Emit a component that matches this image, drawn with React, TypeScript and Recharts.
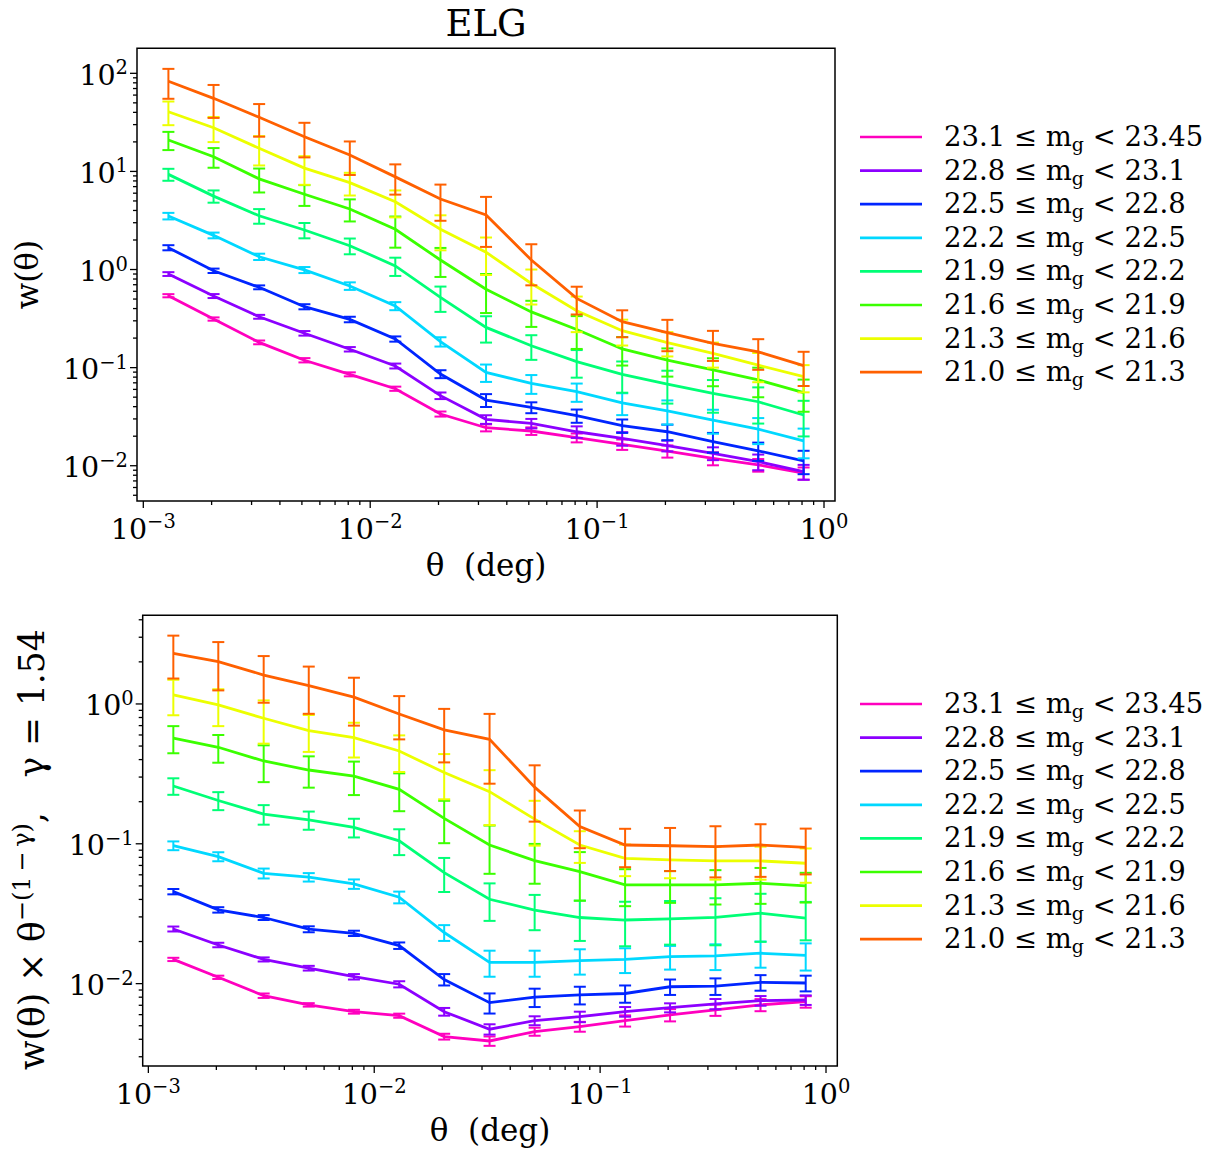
import React from 'react';
import { ComposedChart, Line, ErrorBar, XAxis, YAxis, ReferenceArea, Legend, Label } from 'recharts';

// angular bins (deg)
const thetaDeg = [0.00129, 0.00204, 0.00324, 0.00513, 0.00813, 0.0129, 0.0204, 0.0324, 0.0513, 0.0813, 0.129, 0.204, 0.324, 0.513, 0.813];

// magnitude bins, faintest first (same order as the legend)
const binLow = ['23.1', '22.8', '22.5', '22.2', '21.9', '21.6', '21.3', '21.0'];
const binHigh = ['23.45', '23.1', '22.8', '22.5', '22.2', '21.9', '21.6', '21.3'];
const binColors = ['#ff00bf', '#8c00ff', '#0025ff', '#00d8ff', '#00ff76', '#3bff00', '#ecff00', '#ff6000'];

// w(theta)
const wTheta = [
  [0.541, 0.313, 0.181, 0.119, 0.0855, 0.061, 0.0337, 0.0244, 0.0226, 0.0193, 0.0165, 0.0141, 0.0119, 0.0102, 0.0084],
  [0.9, 0.537, 0.33, 0.224, 0.154, 0.104, 0.0518, 0.0297, 0.027, 0.0222, 0.019, 0.016, 0.0134, 0.011, 0.0087],
  [1.67, 0.972, 0.659, 0.418, 0.31, 0.196, 0.0861, 0.0467, 0.0393, 0.0324, 0.0256, 0.0222, 0.0176, 0.0142, 0.0112],
  [3.51, 2.23, 1.35, 0.99, 0.68, 0.425, 0.184, 0.0895, 0.069, 0.0568, 0.0438, 0.0363, 0.0292, 0.0236, 0.0179],
  [9.33, 5.6, 3.53, 2.53, 1.75, 1.09, 0.52, 0.257, 0.167, 0.115, 0.0855, 0.068, 0.0547, 0.0449, 0.0329],
  [20.9, 14.1, 8.4, 5.85, 4.14, 2.57, 1.25, 0.63, 0.37, 0.245, 0.155, 0.119, 0.0946, 0.0749, 0.0555],
  [40.6, 27.9, 17.2, 10.8, 7.68, 4.9, 2.57, 1.5, 0.72, 0.38, 0.238, 0.18, 0.14, 0.106, 0.081],
  [83, 55.6, 35.6, 22.6, 14.7, 8.8, 5.24, 3.6, 1.25, 0.508, 0.294, 0.227, 0.177, 0.145, 0.105],
];
const wThetaErr = [
  [0.02, 0.012, 0.008, 0.006, 0.004, 0.003, 0.002, 0.002, 0.002, 0.002, 0.002, 0.002, 0.0018, 0.0015, 0.0012],
  [0.04, 0.025, 0.015, 0.012, 0.008, 0.006, 0.004, 0.003, 0.003, 0.003, 0.003, 0.002, 0.002, 0.002, 0.0015],
  [0.1, 0.05, 0.03, 0.025, 0.02, 0.012, 0.008, 0.007, 0.005, 0.005, 0.004, 0.004, 0.004, 0.003, 0.003],
  [0.27, 0.15, 0.1, 0.07, 0.06, 0.04, 0.02, 0.018, 0.015, 0.012, 0.011, 0.01, 0.008, 0.007, 0.006],
  [1.3, 0.8, 0.6, 0.45, 0.32, 0.23, 0.15, 0.077, 0.047, 0.036, 0.03, 0.025, 0.02, 0.018, 0.013],
  [4.4, 3.2, 2.3, 1.4, 1.05, 0.9, 0.41, 0.27, 0.11, 0.09, 0.05, 0.038, 0.03, 0.025, 0.02],
  [11, 8, 5.7, 3.5, 2, 1.5, 1.0, 0.62, 0.28, 0.15, 0.07, 0.05, 0.04, 0.035, 0.025],
  [28, 20.5, 13, 8.7, 5.5, 3, 2.1, 1.9, 0.56, 0.16, 0.09, 0.08, 0.06, 0.05, 0.04],
];

// w(theta) * theta^-(1-gamma), gamma = 1.54
const wScaled = [
  [0.0149, 0.0111, 0.0082, 0.00705, 0.0063, 0.0059, 0.00418, 0.00389, 0.00454, 0.00493, 0.00543, 0.00597, 0.00648, 0.00705, 0.00743],
  [0.0246, 0.0189, 0.0149, 0.0129, 0.0112, 0.0099, 0.0063, 0.00472, 0.00544, 0.0058, 0.0063, 0.00673, 0.00716, 0.00755, 0.00764],
  [0.0455, 0.0337, 0.0297, 0.0245, 0.0229, 0.0187, 0.0107, 0.00731, 0.008, 0.0083, 0.0085, 0.0095, 0.0096, 0.0102, 0.0101],
  [0.097, 0.081, 0.0615, 0.0577, 0.0516, 0.0415, 0.0232, 0.0142, 0.0142, 0.0146, 0.0149, 0.0156, 0.0158, 0.0165, 0.0159],
  [0.259, 0.204, 0.163, 0.148, 0.131, 0.105, 0.0622, 0.0401, 0.0336, 0.0297, 0.0285, 0.029, 0.0298, 0.0319, 0.0294],
  [0.569, 0.49, 0.391, 0.337, 0.305, 0.245, 0.152, 0.098, 0.0758, 0.0632, 0.0508, 0.0508, 0.0508, 0.0522, 0.05],
  [1.16, 0.984, 0.79, 0.644, 0.574, 0.461, 0.323, 0.236, 0.15, 0.098, 0.0787, 0.0767, 0.0754, 0.0754, 0.0726],
  [2.3, 2.01, 1.61, 1.35, 1.12, 0.848, 0.652, 0.559, 0.254, 0.133, 0.098, 0.0968, 0.0955, 0.098, 0.0944],
];
const wScaledErr = [
  [0.0004, 0.0003, 0.0003, 0.0002, 0.0002, 0.0002, 0.0002, 0.0003, 0.0003, 0.0004, 0.0005, 0.0006, 0.0006, 0.0007, 0.0007],
  [0.001, 0.0007, 0.0005, 0.0005, 0.0005, 0.0005, 0.0004, 0.0004, 0.0004, 0.0005, 0.0005, 0.0005, 0.0006, 0.0006, 0.0006],
  [0.002, 0.0015, 0.0012, 0.0012, 0.001, 0.001, 0.001, 0.0012, 0.0012, 0.0012, 0.0012, 0.0012, 0.0013, 0.0013, 0.0013],
  [0.007, 0.006, 0.005, 0.004, 0.004, 0.004, 0.003, 0.003, 0.003, 0.003, 0.003, 0.003, 0.0033, 0.0035, 0.0035],
  [0.035, 0.03, 0.026, 0.022, 0.02, 0.022, 0.017, 0.012, 0.0095, 0.0095, 0.01, 0.01, 0.011, 0.012, 0.009],
  [0.125, 0.11, 0.115, 0.085, 0.082, 0.074, 0.051, 0.037, 0.024, 0.024, 0.015, 0.013, 0.014, 0.015, 0.012],
  [0.33, 0.29, 0.27, 0.19, 0.16, 0.135, 0.115, 0.1, 0.053, 0.025, 0.02, 0.02, 0.02, 0.02, 0.02],
  [0.78, 0.76, 0.59, 0.5, 0.42, 0.29, 0.27, 0.29, 0.11, 0.04, 0.03, 0.033, 0.038, 0.04, 0.034],
];

// log ticks (majors get labels)
const xTicks = [0.001, 0.002, 0.003, 0.004, 0.005, 0.006, 0.007, 0.008, 0.009, 0.01, 0.02, 0.03, 0.04, 0.05, 0.06, 0.07, 0.08, 0.09, 0.1, 0.2, 0.3, 0.4, 0.5, 0.6, 0.7, 0.8, 0.9, 1];
const topYTicks = [0.005, 0.006, 0.007, 0.008, 0.009, 0.01, 0.02, 0.03, 0.04, 0.05, 0.06, 0.07, 0.08, 0.09, 0.1, 0.2, 0.3, 0.4, 0.5, 0.6, 0.7, 0.8, 0.9, 1, 2, 3, 4, 5, 6, 7, 8, 9, 10, 20, 30, 40, 50, 60, 70, 80, 90, 100];
const bottomYTicks = [0.003, 0.004, 0.005, 0.006, 0.007, 0.008, 0.009, 0.01, 0.02, 0.03, 0.04, 0.05, 0.06, 0.07, 0.08, 0.09, 0.1, 0.2, 0.3, 0.4, 0.5, 0.6, 0.7, 0.8, 0.9, 1, 2, 3, 4];

const FONT = '"DejaVu Serif", serif';
const TICK_FS = 28.5;
const TICK_SUP_FS = 19.5;
const LEGEND_FS = 27.5;
const LEGEND_SUB_FS = 19;
const LABEL_FS = 31;

const buildRows = (vals: number[][], errs: number[][]) =>
  thetaDeg.map((t, i) => {
    const row: any = { theta: t };
    vals.forEach((s, k) => {
      row[`v${k}`] = s[i];
      row[`e${k}`] = errs[k][i];
    });
    return row;
  });

const expOf = (v: number) => {
  const l = Math.log10(v);
  const e = Math.round(l);
  return { e, major: Math.abs(l - e) < 1e-6 };
};
const expText = (e: number) => (e < 0 ? `\u2212${-e}` : `${e}`);

const XTick = (props: any) => {
  const { x, y, payload } = props;
  const { e, major } = expOf(payload.value);
  return (
    <g>
      <line x1={x} x2={x} y1={y} y2={y + (major ? 7 : 4)} stroke="#000" strokeWidth={1.3} />
      {major && (
        <text x={x} y={y + 37.5} textAnchor="middle" fontFamily={FONT} fontSize={TICK_FS} fill="#000">
          10<tspan dy={-10.5} fontSize={TICK_SUP_FS}>{expText(e)}</tspan>
        </text>
      )}
    </g>
  );
};

const YTick = (props: any) => {
  const { x, y, payload } = props;
  const { e, major } = expOf(payload.value);
  return (
    <g>
      <line x1={x} x2={x - (major ? 7 : 4)} y1={y} y2={y} stroke="#000" strokeWidth={1.3} />
      {major && (
        <text x={x - 9} y={y + 11.5} textAnchor="end" fontFamily={FONT} fontSize={TICK_FS} fill="#000">
          10<tspan dy={-10.5} fontSize={TICK_SUP_FS}>{expText(e)}</tspan>
        </text>
      )}
    </g>
  );
};

const MagLegend = () => (
  <svg width={360} height={280}>
    {binLow.map((lo, k) => {
      const ly = 17 + k * 33.6;
      return (
        <g key={lo + k}>
          <line x1={2} x2={64} y1={ly} y2={ly} stroke={binColors[k]} strokeWidth={2.7} />
          <text x={86} y={ly + 9} fontFamily={FONT} fontSize={LEGEND_FS} fill="#000" style={{ whiteSpace: 'pre' }}>
            {`${lo} \u2264 m`}
            <tspan fontSize={LEGEND_SUB_FS} dy={5}>g</tspan>
            <tspan dy={-5}>{` < ${binHigh[k]}`}</tspan>
          </text>
        </g>
      );
    })}
  </svg>
);

const Panel = ({ rows, xDomain, yDomain, yTicks, height, margin, yAxisWidth, xAxisHeight, title, yLabel, yLabelX, yLabelFs, yLabelShift, legendTop }: any) => (
  <ComposedChart width={1214} height={height} data={rows} margin={margin}>
    <XAxis
      dataKey="theta"
      type="number"
      scale="log"
      domain={xDomain}
      allowDataOverflow
      ticks={xTicks}
      interval={0}
      height={xAxisHeight}
      axisLine={false}
      tickLine={false}
      tickSize={0}
      tickMargin={0}
      tick={<XTick />}
    >
      <Label
        content={(p: any) => (
          <text
            x={p.viewBox.x + p.viewBox.width / 2}
            y={p.viewBox.y + 75}
            textAnchor="middle"
            fontFamily={FONT}
            fontSize={LABEL_FS}
            fill="#000"
            style={{ whiteSpace: 'pre' }}
          >
            {'\u03b8  (deg)'}
          </text>
        )}
      />
    </XAxis>
    <YAxis
      type="number"
      scale="log"
      domain={yDomain}
      allowDataOverflow
      ticks={yTicks}
      interval={0}
      width={yAxisWidth}
      axisLine={false}
      tickLine={false}
      tickSize={0}
      tickMargin={0}
      tick={<YTick />}
    >
      <Label
        content={(p: any) => {
          const cx = yLabelX;
          const cy = p.viewBox.y + p.viewBox.height / 2 + yLabelShift;
          return (
            <text
              x={cx}
              y={cy}
              transform={`rotate(-90 ${cx} ${cy})`}
              textAnchor="middle"
              fontFamily={FONT}
              fontSize={yLabelFs}
              fill="#000"
              style={{ whiteSpace: 'pre' }}
            >
              {yLabel}
            </text>
          );
        }}
      />
    </YAxis>
    <ReferenceArea
      x1={xDomain[0]}
      x2={xDomain[1]}
      y1={yDomain[0]}
      y2={yDomain[1]}
      fill="none"
      stroke="#000"
      strokeWidth={1.5}
      ifOverflow="visible"
      label={(p: any) =>
        title ? (
          <text x={p.viewBox.x + p.viewBox.width / 2} y={p.viewBox.y - 12} textAnchor="middle" fontFamily={FONT} fontSize={37} fill="#000">
            {title}
          </text>
        ) : null
      }
    />
    {binColors.map((c, k) => (
      <Line
        key={k}
        dataKey={`v${k}`}
        type="linear"
        stroke={c}
        strokeWidth={2.8}
        dot={false}
        isAnimationActive={false}
      >
        <ErrorBar dataKey={`e${k}`} width={6} strokeWidth={2} stroke={c} direction="y" isAnimationActive={false} />
      </Line>
    ))}
    <Legend
      layout="vertical"
      align="center"
      verticalAlign="middle"
      wrapperStyle={{ left: 858, top: legendTop, width: 360 }}
      content={() => <MagLegend />}
    />
  </ComposedChart>
);

export default function App() {
  const topRows = buildRows(wTheta, wThetaErr);
  const bottomRows = buildRows(wScaled, wScaledErr);

  const bottomYLabel = (
    <>
      {'w(\u03b8) \u00d7 \u03b8'}
      <tspan dy={-14} fontSize={24}>{'\u2212(1\u2009\u2212\u2009\u03b3)'}</tspan>
      <tspan dy={14}>{',\u2003\u03b3 = 1.54'}</tspan>
    </>
  );

  return (
    <div style={{ position: 'absolute', left: 0, top: 0, width: 1214, height: 1156, background: '#fff' }}>
      <div style={{ position: 'absolute', left: 0, top: 0 }}>
        <Panel
          rows={topRows}
          xDomain={[0.000938, 1.118]}
          yDomain={[0.00437, 179.9]}
          yTicks={topYTicks}
          height={590}
          margin={{ top: 48.3, right: 379, bottom: 0, left: 0 }}
          yAxisWidth={137}
          xAxisHeight={89}
          title="ELG"
          yLabel={'w(\u03b8)'}
          yLabelX={38.5}
          yLabelFs={LABEL_FS}
          yLabelShift={0}
          legendTop={120.3}
        />
      </div>
      <div style={{ position: 'absolute', left: 0, top: 590 }}>
        <Panel
          rows={bottomRows}
          xDomain={[0.000944, 1.122]}
          yDomain={[0.002576, 4.305]}
          yTicks={bottomYTicks}
          height={566}
          margin={{ top: 25.3, right: 376.7, bottom: 0, left: 0 }}
          yAxisWidth={142.7}
          xAxisHeight={90}
          title={null}
          yLabel={bottomYLabel}
          yLabelX={44}
          yLabelFs={34.5}
          yLabelShift={9}
          legendTop={97}
        />
      </div>
    </div>
  );
}
